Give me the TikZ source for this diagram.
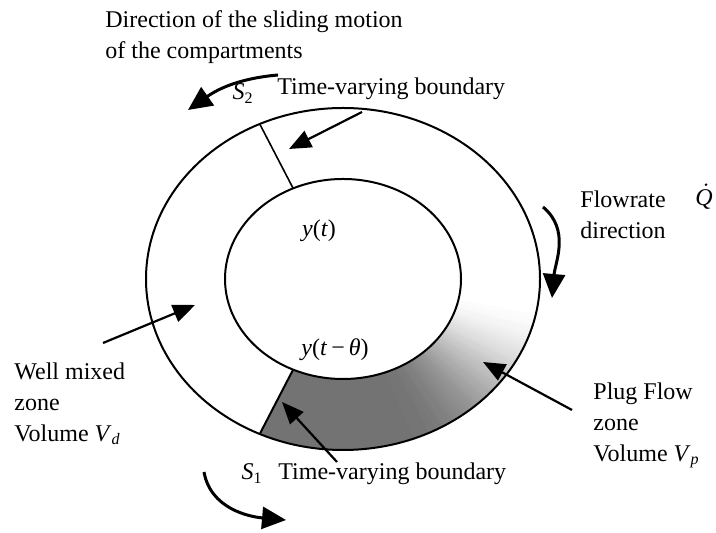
\documentclass[tikz,border=0pt]{standalone}
\usepackage{fontspec}
\setmainfont{Liberation Serif}
\usetikzlibrary{arrows.meta, calc}

\begin{document}
\begin{tikzpicture}[
    x=0.5pt, y=0.5pt,
    ring/.style={line width=1pt},
    cut/.style={line width=0.8pt},
    pointer/.style={-{Triangle[length=11pt, width=9pt]}, line width=1.1pt},
    turn/.style={-{Triangle[length=12pt, width=11pt]}, line width=1.5pt},
    lbl/.style={font=\fontsize{12}{15.5}\selectfont, inner sep=0pt, align=left}
  ]
  \useasboundingbox (0,0) rectangle (716,533);

  % centre of the two rings
  \coordinate (ctr) at (343,254);
  \coordinate (s2out) at ($(ctr)+(115:197 and 171)$);
  \coordinate (s2in)  at ($(ctr)+(115:118 and 100)$);
  \coordinate (s1out) at ($(ctr)+(245:197 and 171)$);
  \coordinate (s1in)  at ($(ctr)+(245:118 and 100)$);

  % plug flow zone: dark near S1, fading out on the right
  \foreach \a in {245,...,352} {
    \pgfmathsetmacro\b{\a+1.6}
    \pgfmathtruncatemacro\g{\a<290 ? 55 : 27.5*(1+cos(180*(\a-290)/63))}
    \fill[black!\g]
      ($(ctr)+(\a:197 and 171)$) arc[start angle=\a, end angle=\b, x radius=197, y radius=171]
      -- ($(ctr)+(\b:118 and 100)$) arc[start angle=\b, end angle=\a, x radius=118, y radius=100]
      -- cycle;
  }

  % the two rings and the two boundaries
  \draw[ring] (ctr) ellipse[x radius=197, y radius=171];
  \draw[ring] (ctr) ellipse[x radius=118, y radius=100];
  \draw[cut] (s2out) -- (s2in);
  \draw[ring] (s1out) -- (s1in);

  % labels
  \node[lbl, anchor=north west] (slide) at (105,523)
    {Direction of the sliding motion\\of the compartments};
  \node[lbl, anchor=base] (s2) at (243,433) {\textit{S}\textsubscript{2}};
  \node[lbl, anchor=base west] (tvbtop) at (277,438) {Time-varying boundary};
  \node[lbl] (yt) at (319,302) {\textit{y}(\textit{t})};
  \node[lbl] (ydelay) at (335,183) {\textit{y}(\textit{t}\,−\,\textit{θ})};
  \node[lbl, anchor=north west] (flow) at (580,343) {Flowrate\\direction};
  \node[lbl, anchor=base west] (qdot) at (695,327) {\textit{Q}};
  \fill ($(qdot.north)+(2,5)$) circle[radius=1.4];
  \node[lbl, anchor=north west] (well) at (14,171)
    {Well mixed\\zone\\Volume \textit{V}\textsubscript{\textit{d}}};
  \node[lbl, anchor=north west] (plug) at (593,151)
    {Plug Flow\\zone\\Volume \textit{V}\textsubscript{\textit{p}}};
  \node[lbl, anchor=base] (s1) at (252,53) {\textit{S}\textsubscript{1}};
  \node[lbl, anchor=base west] (tvbbot) at (278,53) {Time-varying boundary};

  % arrow ends
  \coordinate (slideA) at (278,458);
  \coordinate (slideB) at (188,423);
  \coordinate (topA) at (362,421);
  \coordinate (topB) at (289,384);
  \coordinate (flowA) at (543,326);
  \coordinate (flowB) at (552,235);
  \coordinate (wellA) at (103,190);
  \coordinate (wellB) at (195,228);
  \coordinate (plugA) at (572,123);
  \coordinate (plugB) at (483,171);
  \coordinate (botA) at (337,71);
  \coordinate (botB) at (282,131);
  \coordinate (turnA) at (204,61);
  \coordinate (turnB) at (286,13);

  % arrows
  \draw[turn] (slideA) to[out=185, in=35] (slideB);
  \draw[pointer] (topA) -- (topB);
  \draw[turn] (flowA) to[out=-40, in=85] (flowB);
  \draw[pointer] (wellA) -- (wellB);
  \draw[pointer] (plugA) -- (plugB);
  \draw[pointer] (botA) -- (botB);
  \draw[turn] (turnA) to[out=-80, in=175] (turnB);

\end{tikzpicture}
\end{document}
